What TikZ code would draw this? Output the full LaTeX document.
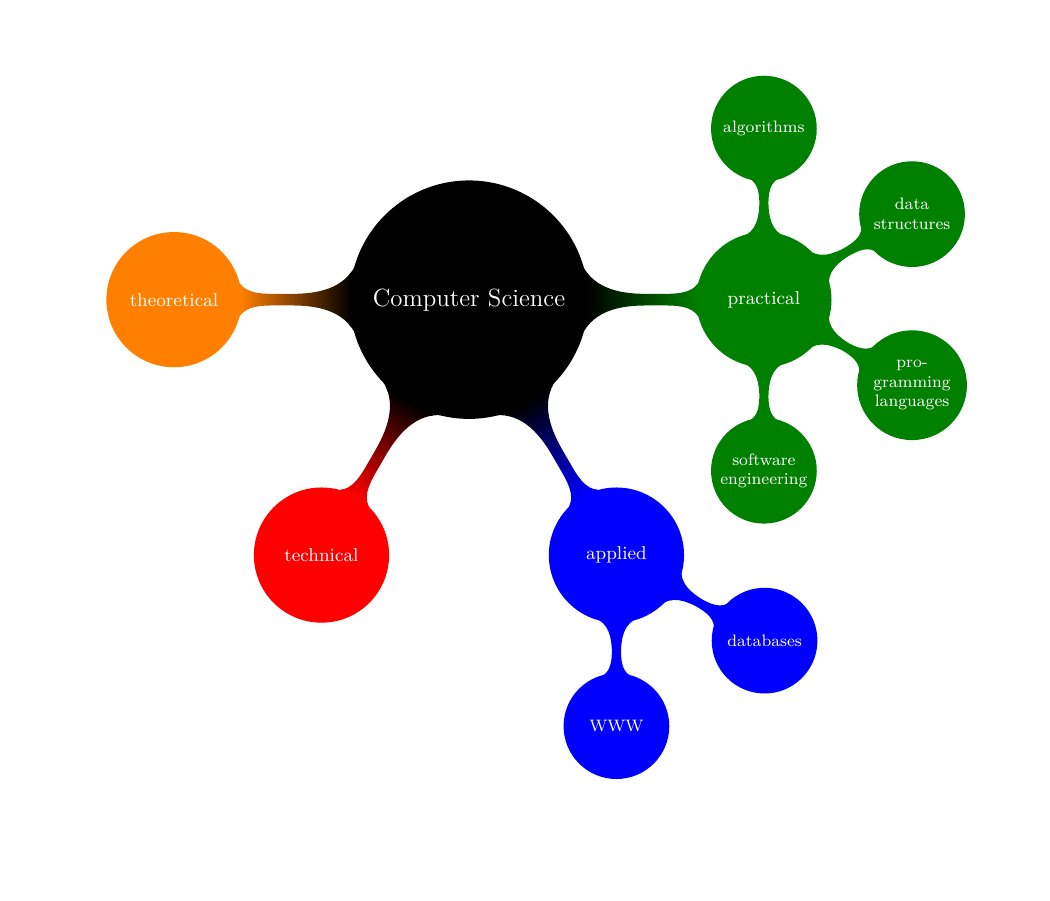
\documentclass[tikz,border=0pt]{standalone}
\usepackage{tikz}
\usetikzlibrary{mindmap}

\begin{document}
\begin{tikzpicture}[
    mindmap,
    concept color=black,
    text=white
]
\useasboundingbox (-7.95,-10.19) rectangle (9.85,5.08);

% Root and its four branches
\path
  node[concept] (cs) {Computer Science}
  [clockwise from=0]
  child[concept color=green!50!black] {
    node[concept] (practical) {practical}
    [clockwise from=90]
    child { node[concept] (algo) {algorithms} }
    child { node[concept] (datastr) {data structures} }
    child { node[concept] (proglang) {pro\-gramming languages} }
    child { node[concept] (softeng) {software engineer\-ing} }
  }
  child[concept color=blue] {
    node[concept] (applied) {applied}
    [clockwise from=-30]
    child { node[concept] (db) {databases} }
    child { node[concept] (www) {WWW} }
  }
  child[concept color=red] { node[concept] (technical) {technical} }
  child[concept color=orange] { node[concept] (theoretical) {theoretical} };

\end{tikzpicture}
\end{document}
